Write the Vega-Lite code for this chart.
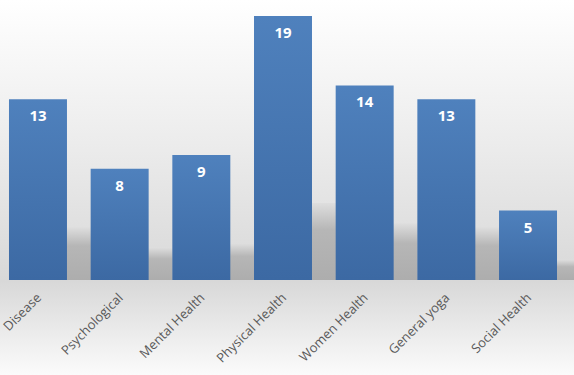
{
  "$schema": "https://vega.github.io/schema/vega-lite/v6.json",
  "width": 574,
  "height": 375,
  "autosize": {"type": "none"},
  "padding": 0,
  "background": "#ffffff",
  "config": {"view": {"stroke": null}},
  "data": {"values": [
    {"topic": "Disease", "count": 13},
    {"topic": "Psychological", "count": 8},
    {"topic": "Mental Health", "count": 9},
    {"topic": "Physical Health", "count": 19},
    {"topic": "Women Health", "count": 14},
    {"topic": "General yoga", "count": 13},
    {"topic": "Social Health", "count": 5}
  ]},
  "resolve": {"scale": {"y": "independent"}},
  "layer": [
    {
      "mark": {"type": "rect", "fill": {"gradient": "linear", "x1": 0, "y1": 0, "x2": 0, "y2": 1, "stops": [
        {"offset": 0, "color": "#ffffff"},
        {"offset": 0.4, "color": "#ebebeb"},
        {"offset": 0.75, "color": "#d8d8d8"},
        {"offset": 1, "color": "#fbfbfb"}
      ]}},
      "encoding": {}
    },
    {
      "mark": {"type": "bar", "xOffset": 24, "fill": {"gradient": "linear", "x1": 0, "y1": 0, "x2": 0, "y2": 1, "stops": [
        {"offset": 0, "color": "#dedede"},
        {"offset": 0.35, "color": "#b6b6b6"},
        {"offset": 1, "color": "#adadad"}
      ]}},
      "encoding": {
        "x": {"field": "topic", "type": "nominal", "sort": null},
        "y": {"field": "count", "type": "quantitative",
          "scale": {"domain": [-23.44, 69.09], "nice": false, "zero": false}, "axis": null},
        "y2": {"datum": 0}
      }
    },
    {
      "mark": {"type": "bar", "fill": {"gradient": "linear", "x1": 0, "y1": 0, "x2": 0, "y2": 1, "stops": [
        {"offset": 0, "color": "#4f81bd"},
        {"offset": 1, "color": "#3c69a3"}
      ]}},
      "encoding": {
        "x": {"field": "topic", "type": "nominal", "sort": null,
          "scale": {"paddingInner": 0.29, "paddingOuter": 0.159, "align": 0.346},
          "axis": {"title": null, "orient": "bottom", "offset": -95, "domain": false, "ticks": false, "zindex": 2,
            "labelAngle": -45, "labelAlign": "right", "labelBaseline": "top", "labelPadding": 11, "labelOffset": -3,
            "labelFont": "Open Sans", "labelFontSize": 13, "labelColor": "#595959"}},
        "y": {"field": "count", "type": "quantitative",
          "scale": {"domain": [-6.837, 20.151], "nice": false, "zero": false}, "axis": null},
        "y2": {"datum": 0}
      }
    },
    {
      "mark": {"type": "text", "color": "#ffffff", "font": "Open Sans", "fontWeight": "bold", "fontSize": 15, "baseline": "middle", "dy": 17},
      "encoding": {
        "x": {"field": "topic", "type": "nominal", "sort": null},
        "y": {"field": "count", "type": "quantitative",
          "scale": {"domain": [-6.837, 20.151], "nice": false, "zero": false}, "axis": null},
        "text": {"field": "count", "type": "quantitative"}
      }
    }
  ]
}
